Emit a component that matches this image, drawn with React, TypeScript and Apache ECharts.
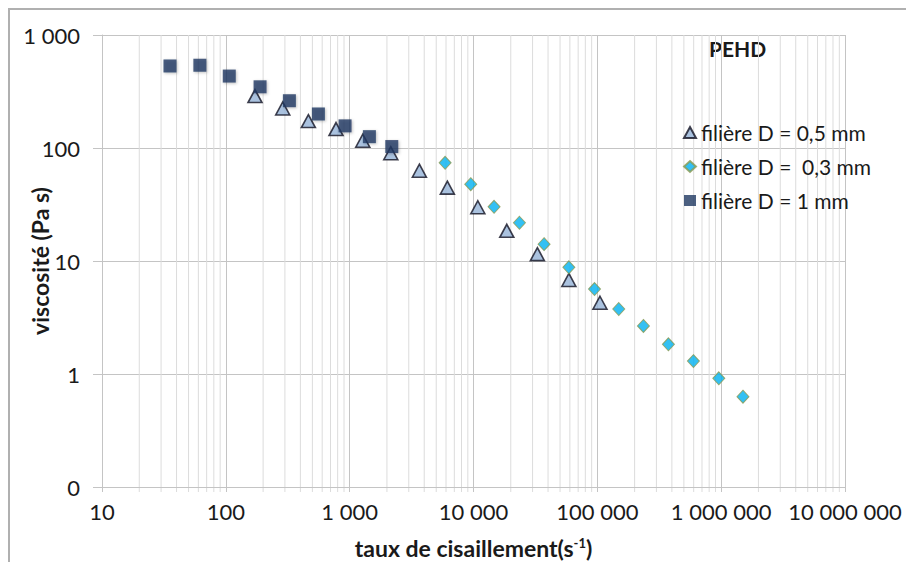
import React, { useEffect, useRef } from "react";
import * as echarts from "echarts";

// Shear rate (s^-1) and viscosity (Pa s)
const triX = [172, 288, 464, 776, 1276, 2148, 3656, 6150, 10840, 18570, 32800, 58900, 105000];
const triY = [288, 224, 173, 147, 116, 90, 63, 44.6, 29.9, 18.5, 11.5, 6.8, 4.27];

const diaX = [5900, 9500, 14660, 23500, 37150, 58900, 94900, 149000, 235600, 375000, 597000, 957000, 1500000];
const diaY = [74, 47.8, 30.2, 21.8, 14.1, 8.79, 5.65, 3.76, 2.66, 1.83, 1.3, 0.916, 0.63];

const sqX = [35.4, 61.7, 106.6, 189, 326, 559, 918, 1443, 2188];
const sqY = [532, 540, 433, 348, 262, 200, 157, 126, 103];

const seriesNames = ["filière D = 0,5 mm", "filière D =  0,3 mm", "filière D = 1 mm"];

const xMin = 10;
const xMax = 10000000;
const yMin = 0.1;
const yMax = 1000;

// minor gridline positions: multipliers 2..9 within each decade
const minorMultipliers = [2, 3, 4, 5, 6, 7, 8, 9];
const decades = [10, 100, 1000, 10000, 100000, 1000000];

const FONT = "Lato, 'Open Sans', sans-serif";

function fmt(v: number): string {
  if (v < 1) return "0";
  return Math.round(v)
    .toString()
    .replace(/\B(?=(\d{3})+(?!\d))/g, " ");
}

function zip(xs: number[], ys: number[]) {
  return xs.map((x, i) => [x, ys[i]]);
}

export default function App() {
  const ref = useRef<HTMLDivElement>(null);

  useEffect(() => {
    if (!ref.current) return;
    const chart = echarts.init(ref.current, null, { renderer: "svg" });

    const minorTicks: number[][] = [];
    decades.forEach((d) => minorMultipliers.forEach((m) => minorTicks.push([d * m, 1])));

    const option: any = {
      animation: false,
      backgroundColor: "#ffffff",
      textStyle: { fontFamily: FONT },
      grid: { left: 102, right: 61, top: 35, bottom: 75, containLabel: false, outerBoundsMode: "none" },
      xAxis: {
        type: "log",
        logBase: 10,
        min: xMin,
        max: xMax,
        splitNumber: 6,
        axisLine: { show: true, lineStyle: { color: "#c4c4c4", width: 1 } },
        axisTick: { show: true, length: 5, lineStyle: { color: "#c4c4c4" } },
        splitLine: { show: true, lineStyle: { color: "#c4c4c4", width: 1 } },
        axisLabel: {
          margin: 13,
          fontSize: 22,
          color: "#1a1a1a",
          fontFamily: FONT,
          formatter: (v: number) => fmt(v),
        },
        name: "{a|taux de cisaillement(s}{b|-1}{a|)}",
        nameLocation: "middle",
        nameGap: 49,
        nameTextStyle: {
          rich: {
            a: { fontSize: 23, fontWeight: "bold", color: "#1a1a1a", fontFamily: FONT },
            b: { fontSize: 13, fontWeight: "bold", color: "#1a1a1a", fontFamily: FONT, verticalAlign: "top" },
          },
        },
      },
      yAxis: {
        type: "log",
        logBase: 10,
        min: yMin,
        max: yMax,
        splitNumber: 4,
        axisLine: { show: true, lineStyle: { color: "#c4c4c4", width: 1 } },
        axisTick: { show: true, length: 9, lineStyle: { color: "#c4c4c4" } },
        splitLine: { show: true, lineStyle: { color: "#c4c4c4", width: 1 } },
        axisLabel: {
          margin: 22,
          fontSize: 22,
          color: "#1a1a1a",
          fontFamily: FONT,
          formatter: (v: number) => fmt(v),
        },
      },
      legend: {
        orient: "vertical",
        left: 678,
        top: 116,
        itemGap: 11,
        itemWidth: 12,
        itemHeight: 11,
        textStyle: { fontSize: 21, color: "#1a1a1a", fontFamily: FONT, lineHeight: 23 },
        data: [
          { name: seriesNames[0], icon: "triangle" },
          { name: seriesNames[1], icon: "diamond" },
          { name: seriesNames[2], icon: "rect" },
        ],
      },
      graphic: [
        {
          type: "line",
          shape: { x1: 8, y1: 9, x2: 906, y2: 9 },
          style: { stroke: "#b0b0b0", lineWidth: 2 },
        },
        {
          type: "line",
          shape: { x1: 9, y1: 8, x2: 9, y2: 562 },
          style: { stroke: "#b0b0b0", lineWidth: 2 },
        },
        {
          type: "text",
          left: 709,
          top: 38,
          style: { text: "PEHD", font: `bold 21px ${FONT}`, fill: "#1a1a1a" },
        },
        {
          type: "text",
          x: 40,
          y: 261,
          rotation: Math.PI / 2,
          style: {
            text: "viscosité (Pa s)",
            font: `bold 23px ${FONT}`,
            fill: "#1a1a1a",
            align: "center",
            verticalAlign: "middle",
          },
        },
      ],
      series: [
        {
          type: "custom",
          name: "minor",
          silent: true,
          z: 0,
          data: minorTicks,
          renderItem: (params: any, api: any) => {
            const v = api.value(0);
            const top = api.coord([v, yMax]);
            const bot = api.coord([v, yMin]);
            return {
              type: "line",
              shape: { x1: top[0], y1: top[1], x2: bot[0], y2: bot[1] + 5 },
              style: { stroke: "#dcdcdc", lineWidth: 1 },
            };
          },
        },
        {
          type: "scatter",
          name: seriesNames[0],
          symbol: "triangle",
          symbolSize: [14, 13],
          z: 3,
          itemStyle: { color: "#95b3d7", borderColor: "#111122", borderWidth: 1.6 },
          data: zip(triX, triY),
        },
        {
          type: "scatter",
          name: seriesNames[1],
          symbol: "diamond",
          symbolSize: [12, 13],
          z: 4,
          itemStyle: { color: "#00b0f0", borderColor: "#8a9a50", borderWidth: 1 },
          data: zip(diaX, diaY),
        },
        {
          type: "scatter",
          name: seriesNames[2],
          symbol: "rect",
          symbolSize: 13,
          z: 5,
          itemStyle: {
            color: "#1f3862",
            shadowBlur: 3,
            shadowColor: "rgba(0,0,0,0.3)",
            shadowOffsetX: 1,
            shadowOffsetY: 1,
          },
          data: zip(sqX, sqY),
        },
      ],
    };

    chart.setOption(option);
    return () => chart.dispose();
  }, []);

  return (
    <div
      ref={ref}
      style={{ position: "absolute", left: 0, top: 0, width: 906, height: 562 }}
    />
  );
}
